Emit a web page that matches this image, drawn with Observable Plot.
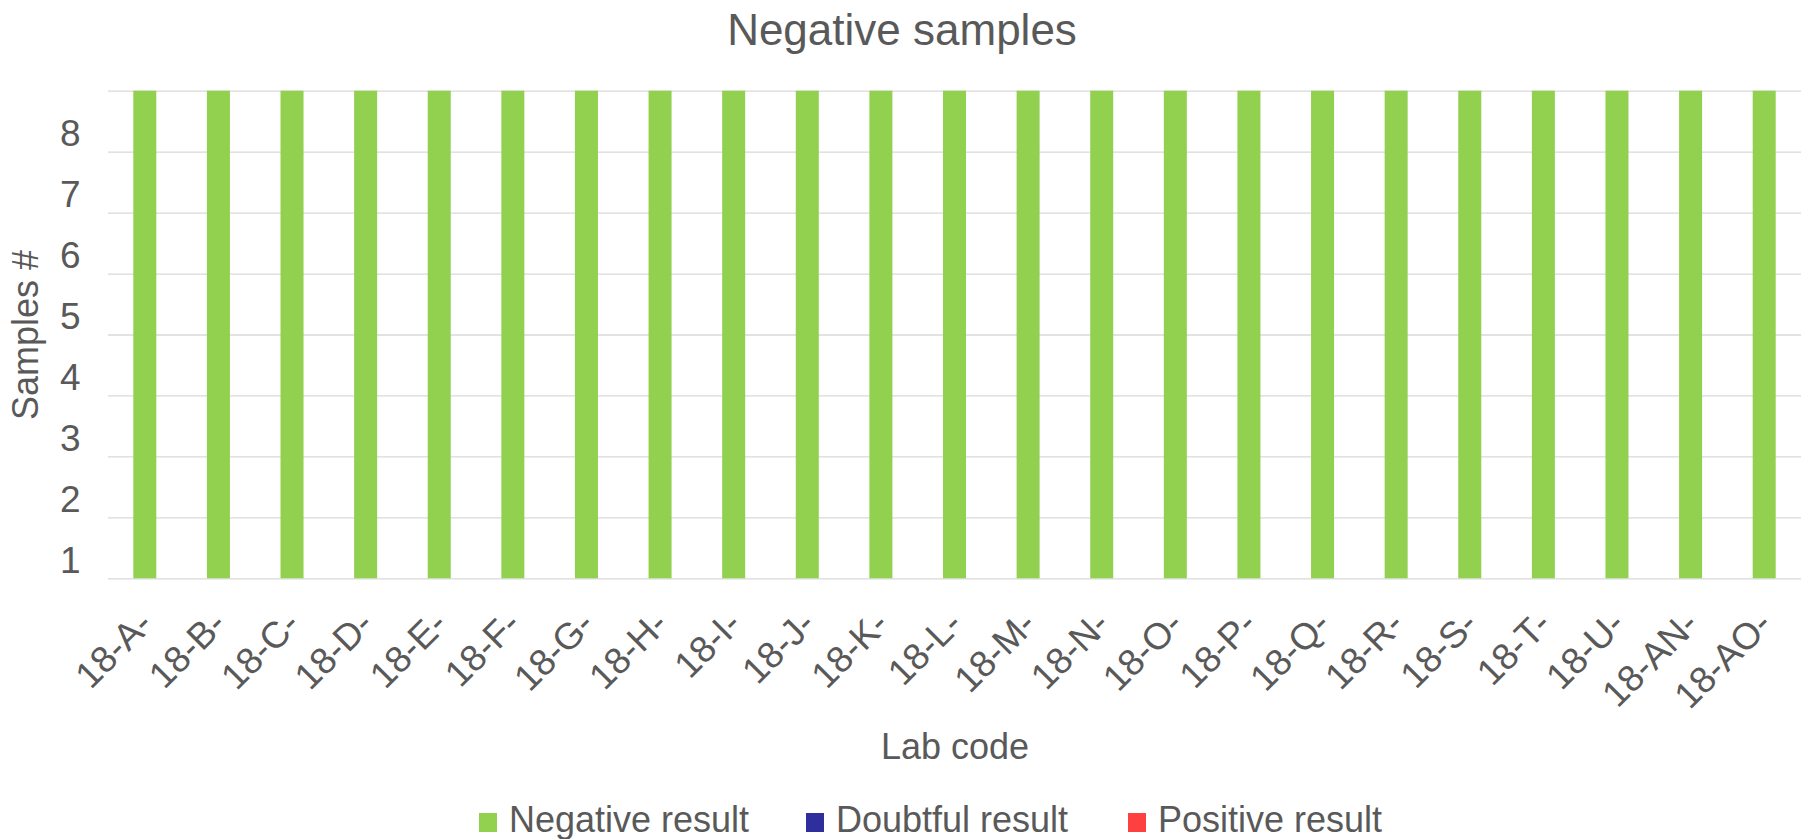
<!DOCTYPE html>
<html>
<head>
<meta charset="utf-8">
<script src="https://cdn.jsdelivr.net/npm/d3@7"></script>
<script src="https://cdn.jsdelivr.net/npm/@observablehq/plot@0.6"></script>
<style>
  html, body { margin: 0; padding: 0; background: #fff; }
  #wrap { position: relative; width: 1804px; height: 839px; overflow: hidden;
          font-family: "Liberation Sans", Arial, sans-serif; color: #595959; }
  #title { position: absolute; left: 0; top: 8px; width: 1804px; text-align: center;
           font-size: 44px; line-height: 44px; }
  #chart { position: absolute; left: 0; top: 60px; }
  #legend { position: absolute; left: 0; top: 800px; width: 1804px; height: 40px; }
  .item { position: absolute; top: 0; height: 40px; display: flex; align-items: center;
          font-size: 36px; line-height: 40px; white-space: nowrap; }
  .sw { width: 18px; height: 19px; margin-right: 12px; margin-top: 5px; }
</style>
</head>
<body>
<div id="wrap">
  <div id="title"></div>
  <div id="chart"></div>
  <div id="legend"></div>
</div>
<script>
const chartTitle = "Negative samples";
const xTitle = "Lab code";
const yTitle = "Samples #";
const labCodes = ["18-A-","18-B-","18-C-","18-D-","18-E-","18-F-","18-G-","18-H-","18-I-","18-J-","18-K-","18-L-","18-M-","18-N-","18-O-","18-P-","18-Q-","18-R-","18-S-","18-T-","18-U-","18-AN-","18-AO-"];
const negativeCounts = [8,8,8,8,8,8,8,8,8,8,8,8,8,8,8,8,8,8,8,8,8,8,8];
const doubtfulCounts = [0,0,0,0,0,0,0,0,0,0,0,0,0,0,0,0,0,0,0,0,0,0,0];
const positiveCounts = [0,0,0,0,0,0,0,0,0,0,0,0,0,0,0,0,0,0,0,0,0,0,0];
const resultTypes = ["Negative result","Doubtful result","Positive result"];
const resultColors = ["#92d050","#2e2e9c","#ff4040"];
const yTicks = [1,2,3,4,5,6,7,8];
const gridTicks = [0,1,2,3,4,5,6,7,8];

const seriesByType = [negativeCounts, doubtfulCounts, positiveCounts];
const data = [];
resultTypes.forEach((t, k) => {
  labCodes.forEach((c, i) => data.push({code: c, result: t, count: seriesByType[k][i]}));
});

document.getElementById("title").textContent = chartTitle;

const W = 1804, H = 730;
const plot = Plot.plot({
  width: W,
  height: H,
  marginLeft: 108,
  marginRight: 3,
  marginTop: 30.7,
  marginBottom: 211.7,
  style: {fontFamily: '"Liberation Sans", Arial, sans-serif', color: "#595959", background: "#fff"},
  x: {type: "band", domain: labCodes, paddingInner: 0.6875, paddingOuter: 0.34375, round: false},
  y: {domain: [0, 8]},
  color: {domain: resultTypes, range: resultColors},
  marks: [
    Plot.gridY(gridTicks, {stroke: "#d9d9d9", strokeOpacity: 1, strokeWidth: 1.3}),
    Plot.barY(data, {x: "code", y: "count", fill: "result", order: resultTypes}),
    Plot.axisY({ticks: yTicks, tickSize: 0, tickPadding: 28, dy: 43, fontSize: 37, label: null, tickFormat: d => String(d)}),
    Plot.axisX({tickRotate: -45, tickSize: 0, tickPadding: 39, dx: 1, fontSize: 37, label: null}),
    Plot.text([yTitle], {frameAnchor: "left", dx: -82, rotate: -90, textAnchor: "middle", fontSize: 36, fill: "#595959"}),
    Plot.text([xTitle], {frameAnchor: "bottom", dy: 180, fontSize: 36, fill: "#595959"})
  ]
});
document.getElementById("chart").appendChild(plot);

const legendX = [479, 806, 1128];
const legend = document.getElementById("legend");
resultTypes.forEach((t, k) => {
  const it = document.createElement("div");
  it.className = "item";
  it.style.left = legendX[k] + "px";
  const sw = document.createElement("span");
  sw.className = "sw";
  sw.style.background = resultColors[k];
  const tx = document.createElement("span");
  tx.textContent = t;
  it.appendChild(sw); it.appendChild(tx);
  legend.appendChild(it);
});
</script>
</body>
</html>
